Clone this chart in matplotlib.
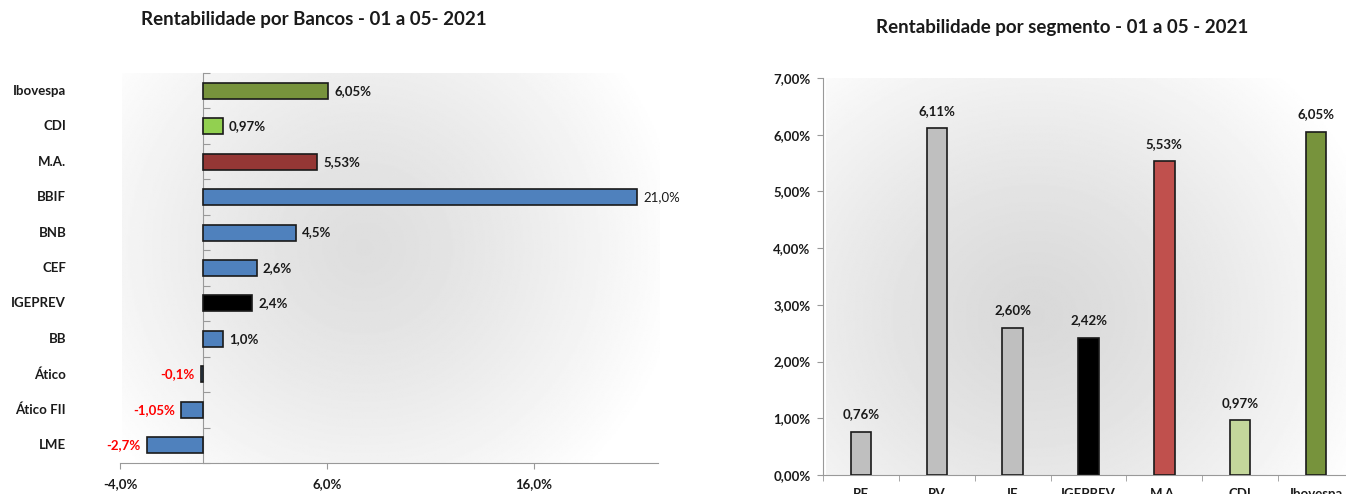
import numpy as np
import matplotlib.pyplot as plt

plt.rcParams['font.family'] = ['Lato', 'DejaVu Sans']

# dados - rentabilidade por bancos
bancos = ['Ibovespa', 'CDI', 'M.A.', 'BBIF', 'BNB', 'CEF', 'IGEPREV', 'BB', 'Ático', 'Ático FII', 'LME']
rent_bancos = [6.05, 0.97, 5.53, 21.0, 4.5, 2.6, 2.4, 1.0, -0.1, -1.05, -2.7]
rotulos_bancos = ['6,05%', '0,97%', '5,53%', '21,0%', '4,5%', '2,6%', '2,4%', '1,0%', '-0,1%', '-1,05%', '-2,7%']
cores_bancos = ['#77933C', '#92D050', '#953735', '#4F81BD', '#4F81BD', '#4F81BD',
                '#000000', '#4F81BD', '#4F81BD', '#4F81BD', '#4F81BD']
ticks_bancos = [-4.0, 6.0, 16.0]
ticks_bancos_lbl = ['-4,0%', '6,0%', '16,0%']

# dados - rentabilidade por segmento
segmentos = ['RF', 'RV', 'IF', 'IGEPREV', 'M.A.', 'CDI', 'Ibovespa']
rent_seg = [0.76, 6.11, 2.60, 2.42, 5.53, 0.97, 6.05]
rotulos_seg = ['0,76%', '6,11%', '2,60%', '2,42%', '5,53%', '0,97%', '6,05%']
cores_seg = ['#BFBFBF', '#BFBFBF', '#BFBFBF', '#000000', '#C0504D', '#C4D79B', '#77933C']
ticks_seg = [0, 1, 2, 3, 4, 5, 6, 7]
ticks_seg_lbl = ['0,00%', '1,00%', '2,00%', '3,00%', '4,00%', '5,00%', '6,00%', '7,00%']

W, H = 1346, 494
fig = plt.figure(figsize=(W / 100, H / 100), dpi=100)


def rect(x0, y0, x1, y1):
    # pixel box (top-left origin) -> figure fraction
    return [x0 / W, 1 - y1 / H, (x1 - x0) / W, (y1 - y0) / H]


def fundo(r, cx, cy, sx, sy, dark):
    bg = fig.add_axes(r, zorder=0)
    yy, xx = np.mgrid[0:1:300j, 0:1:300j]
    d = np.sqrt(((xx - cx) / sx) ** 2 + ((yy - cy) / sy) ** 2)
    v = dark + (1 - dark) * np.clip(d, 0, 1) ** 1.3
    bg.imshow(v, cmap='gray', vmin=0, vmax=1, extent=[0, 1, 0, 1], origin='lower', aspect='auto')
    bg.axis('off')


# ---------------- grafico da esquerda ----------------
fundo(rect(122, 73, 660, 463), 0.45, 0.55, 0.6, 0.8, 0.87)
ax1 = fig.add_axes(rect(120, 73, 658, 463), zorder=1)
ax1.set_facecolor('none')
y = np.arange(len(bancos))
ax1.barh(y, rent_bancos, height=0.45, color=cores_bancos, edgecolor='#1a1a1a', linewidth=1.2, zorder=3)
ax1.set_xlim(-4, 22)
ax1.set_ylim(len(bancos) - 0.5, -0.5)

for i, (v, lbl) in enumerate(zip(rent_bancos, rotulos_bancos)):
    if v >= 0:
        ax1.text(v + 0.3, i, lbl, ha='left', va='center', fontsize=9.5,
                 fontweight='normal' if v > 20 else 'bold', color='#1a1a1a')
    else:
        ax1.text(v - 0.3, i, lbl, ha='right', va='center', fontsize=9.5, fontweight='bold', color='#FF0000')
    ax1.text(-0.1, i, bancos[i], transform=ax1.get_yaxis_transform(), ha='right', va='center',
             fontsize=9.5, fontweight='bold', color='#1a1a1a')

for s in ['top', 'right']:
    ax1.spines[s].set_visible(False)
ax1.spines['left'].set_position(('data', 0))
ax1.spines['left'].set_color('#999999')
ax1.spines['bottom'].set_color('#999999')
ax1.set_yticks(np.arange(len(bancos) + 1) - 0.5)
ax1.set_yticklabels([])
ax1.tick_params(axis='y', direction='in', length=5, color='#999999')
ax1.set_xticks(ticks_bancos)
ax1.set_xticklabels(ticks_bancos_lbl, fontsize=9.5, fontweight='bold', color='#1a1a1a')
ax1.tick_params(axis='x', length=4, color='#999999', pad=7)

fig.text(314 / W, 1 - 20 / H, 'Rentabilidade por Bancos - 01 a 05- 2021', ha='center', va='center',
         fontsize=13.5, fontweight='bold', color='#1a1a1a')

# ---------------- grafico da direita ----------------
fundo(rect(826, 78, 1346, 475), 0.4, 0.4, 0.7, 0.85, 0.85)
ax2 = fig.add_axes(rect(823, 78, 1354, 475), zorder=1)
ax2.set_facecolor('none')
x = np.arange(len(segmentos))
ax2.bar(x, rent_seg, width=0.27, color=cores_seg, edgecolor='#1a1a1a', linewidth=1.2, zorder=3)
ax2.set_xlim(-0.5, len(segmentos) - 0.5)
ax2.set_ylim(0, 7)
for i, (v, lbl) in enumerate(zip(rent_seg, rotulos_seg)):
    ax2.text(i, v + 0.2, lbl, ha='center', va='bottom', fontsize=9.5, fontweight='bold', color='#1a1a1a')

for s in ['top', 'right']:
    ax2.spines[s].set_visible(False)
ax2.spines['left'].set_color('#999999')
ax2.spines['bottom'].set_color('#999999')
ax2.set_yticks(ticks_seg)
ax2.set_yticklabels(ticks_seg_lbl, fontsize=9.5, fontweight='bold', color='#1a1a1a')
ax2.tick_params(axis='y', length=4, color='#999999', pad=5)
ax2.set_xticks(x)
ax2.set_xticklabels(segmentos, fontsize=9.5, fontweight='bold', color='#1a1a1a')
ax2.tick_params(axis='x', length=0, pad=9)
ax2.set_xticks(np.arange(len(segmentos) + 1) - 0.5, minor=True)
ax2.tick_params(axis='x', which='minor', length=4, color='#999999')

fig.text(1062 / W, 1 - 27 / H, 'Rentabilidade por segmento - 01 a 05 - 2021', ha='center', va='center',
         fontsize=13.5, fontweight='bold', color='#1a1a1a')

fig.savefig('out.png', dpi=100, facecolor='white')
